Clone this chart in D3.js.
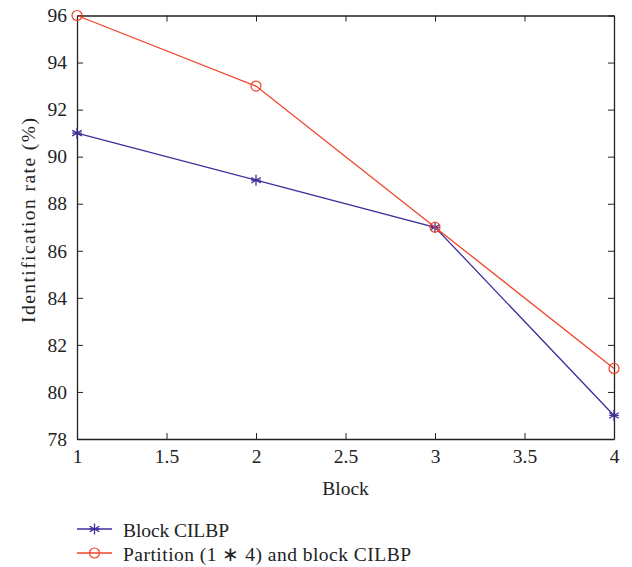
<!DOCTYPE html>
<html lang="en">
<head>
  <meta charset="UTF-8">
  <title>Identification rate by block</title>
  <script src="https://d3js.org/d3.v7.min.js"></script>
  <style>
    html, body { margin: 0; padding: 0; background: #fff; }
    svg text { font-family: "Liberation Serif", "Times New Roman", serif; fill: #222; }
    .domain, .tick line { stroke: #222; }
  </style>
</head>
<body>
  <div id="container"></div>
  <script>
    // data
    const blocks = [1, 2, 3, 4];
    const blockCILBP = [91, 89, 87, 79];
    const partitionCILBP = [96, 93, 87, 81];
    const xTicks = [1, 1.5, 2, 2.5, 3, 3.5, 4];
    const yTicks = [78, 80, 82, 84, 86, 88, 90, 92, 94, 96];
    const seriesNames = ['Block CILBP', 'Partition (1 \u2217 4) and block CILBP'];

    const width = 632, height = 567;
    const margin = {top: 15.5, left: 77, right: 18, bottom: 128};
    const w = width - margin.left - margin.right;
    const h = height - margin.top - margin.bottom;

    const svg = d3.select('#container').append('svg')
      .attr('width', width).attr('height', height);
    const g = svg.append('g').attr('transform', `translate(${margin.left},${margin.top})`);

    const xScale = d3.scaleLinear().domain([1, 4]).range([0, w]);
    const yScale = d3.scaleLinear().domain([78, 96]).range([h, 0]);

    const tickLen = 6;
    const fontSize = 19.5;
    const fmt = d => d3.format('~g')(d);

    g.append('g').attr('transform', `translate(0,${h})`)
      .call(d3.axisBottom(xScale).tickValues(xTicks).tickFormat(fmt).tickSizeInner(-tickLen).tickSizeOuter(0).tickPadding(10))
      .call(a => a.selectAll('text').attr('font-size', fontSize));
    g.append('g')
      .call(d3.axisLeft(yScale).tickValues(yTicks).tickFormat(fmt).tickSizeInner(-tickLen).tickSizeOuter(0).tickPadding(10))
      .call(a => a.selectAll('text').attr('font-size', fontSize));
    g.append('g')
      .call(d3.axisTop(xScale).tickValues(xTicks).tickFormat('').tickSizeInner(-tickLen).tickSizeOuter(0));
    g.append('g').attr('transform', `translate(${w},0)`)
      .call(d3.axisRight(yScale).tickValues(yTicks).tickFormat('').tickSizeInner(-tickLen).tickSizeOuter(0));
    g.selectAll('.domain').attr('stroke-width', 1.3);

    const series = [
      {name: seriesNames[0], values: blockCILBP, color: '#3b2f9c', marker: 'star', textLen: 106},
      {name: seriesNames[1], values: partitionCILBP, color: '#f0452b', marker: 'circle', textLen: 288}
    ];

    const line = d3.line().x((d, i) => xScale(blocks[i])).y(d => yScale(d));

    function drawMarker(sel, type, color) {
      if (type === 'circle') {
        sel.append('circle').attr('r', 5).attr('fill', 'none').attr('stroke', color).attr('stroke-width', 1.2);
      } else {
        const r = 5.5;
        [0, 60, 120].forEach(a => {
          const rad = a * Math.PI / 180;
          sel.append('line')
            .attr('x1', -r * Math.sin(rad)).attr('y1', -r * Math.cos(rad))
            .attr('x2', r * Math.sin(rad)).attr('y2', r * Math.cos(rad))
            .attr('stroke', color).attr('stroke-width', 1.3);
        });
        sel.append('line').attr('x1', -r * 0.87).attr('x2', r * 0.87).attr('y1', 0).attr('y2', 0)
          .attr('stroke', color).attr('stroke-width', 1.3);
      }
    }

    series.forEach(s => {
      g.append('path').datum(s.values)
        .attr('fill', 'none').attr('stroke', s.color).attr('stroke-width', 1.3)
        .attr('d', line);
      s.values.forEach((v, i) => {
        const m = g.append('g').attr('transform', `translate(${xScale(blocks[i])},${yScale(v)})`);
        drawMarker(m, s.marker, s.color);
      });
    });

    // axis labels
    svg.append('text').attr('x', margin.left + w / 2).attr('y', 495)
      .attr('text-anchor', 'middle').attr('font-size', fontSize).text('Block');
    svg.append('text').attr('transform', 'translate(35,220.5) rotate(-90)')
      .attr('text-anchor', 'middle').attr('font-size', fontSize)
      .attr('textLength', 205).attr('lengthAdjust', 'spacing')
      .text('Identification rate (%)');

    // legend
    const legend = svg.append('g').attr('transform', 'translate(77,529)');
    series.forEach((s, i) => {
      const row = legend.append('g').attr('transform', `translate(0,${i * 24})`);
      row.append('line').attr('x1', 0).attr('x2', 35).attr('y1', 0).attr('y2', 0)
        .attr('stroke', s.color).attr('stroke-width', 1.3);
      const m = row.append('g').attr('transform', 'translate(17.5,0)');
      drawMarker(m, s.marker, s.color);
      row.append('text').attr('x', 46).attr('y', 8).attr('font-size', fontSize)
        .attr('textLength', s.textLen).attr('lengthAdjust', 'spacing')
        .text(s.name);
    });
  </script>
</body>
</html>
